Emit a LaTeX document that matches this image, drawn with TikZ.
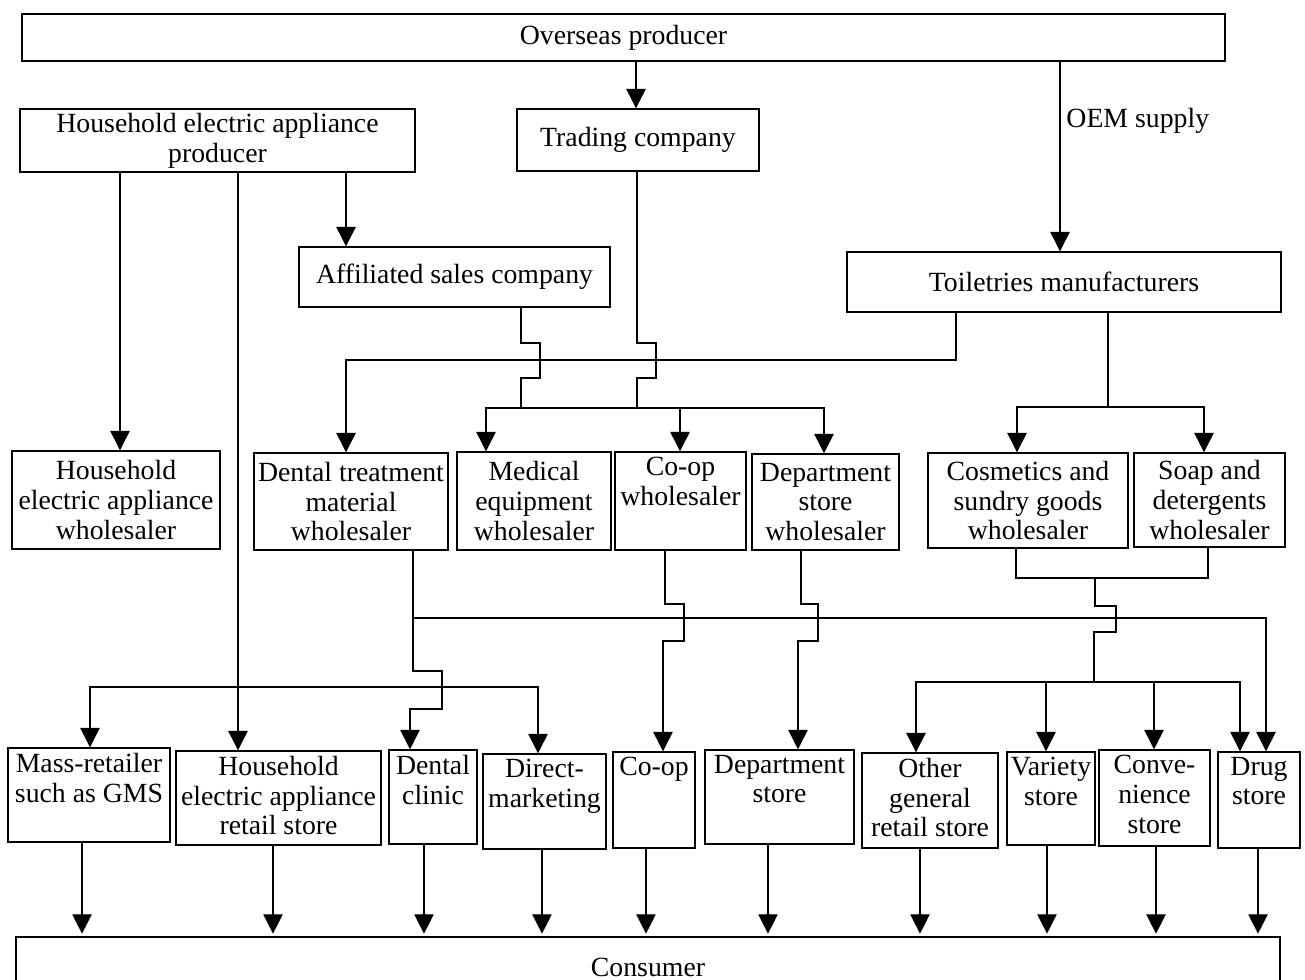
\documentclass[tikz,border=0pt]{standalone}
\usepackage{fontspec}
\setmainfont{Liberation Serif}
\usetikzlibrary{arrows.meta,fit}

\begin{document}
\begin{tikzpicture}[x=0.02cm,y=-0.02cm,
  every node/.style={font=\fontsize{15.8}{17}\selectfont},
  box/.style={draw, line width=0.8pt, inner sep=0pt},
  midtext/.style={align=center, inner sep=0pt},
  toptext/.style={anchor=north, align=center, inner sep=3pt},
  link/.style={line width=0.7pt},
  arr/.style={link, -{Triangle[length=11pt,width=11pt]}}]
  \useasboundingbox (0,0) rectangle (1305,980);

  % Producers
  \node[box, fit={(22,14) (1225,61)}] (over) {};
  \node[midtext] (overt) at (over.center) {Overseas producer};
  \node[box, fit={(517,109) (759,171)}] (trade) {};
  \node[midtext] (tradet) at (trade.center) {Trading company};
  \node[box, fit={(20,109) (415,172)}] (prod) {};
  \node[midtext] (prodt) at (prod.center) {Household electric appliance\\producer};
  \node[box, fit={(299,247) (610,307)}] (aff) {};
  \node[midtext] (afft) at (aff.center) {Affiliated sales company};
  \node[box, fit={(847,252) (1281,312)}] (toil) {};
  \node[midtext] (toilt) at (toil.center) {Toiletries manufacturers};

  % Wholesalers
  \node[box, fit={(12,451) (220,549)}] (hewh) {};
  \node[midtext] (hewht) at (hewh.center) {Household\\electric appliance\\wholesaler};
  \node[box, fit={(254,453) (448,550)}] (dentwh) {};
  \node[midtext] (dentwht) at (dentwh.center) {Dental treatment\\material\\wholesaler};
  \node[box, fit={(457,452) (611,550)}] (medwh) {};
  \node[midtext] (medwht) at (medwh.center) {Medical\\equipment\\wholesaler};
  \node[box, fit={(615,452) (746,550)}] (coopwh) {};
  \node[toptext] (coopwht) at (coopwh.north) {Co-op\\wholesaler};
  \node[box, fit={(752,454) (899,550)}] (deptwh) {};
  \node[midtext] (deptwht) at (deptwh.center) {Department\\store\\wholesaler};
  \node[box, fit={(928,453) (1128,548)}] (coswh) {};
  \node[midtext] (coswht) at (coswh.center) {Cosmetics and\\sundry goods\\wholesaler};
  \node[box, fit={(1134,453) (1285,547)}] (soapwh) {};
  \node[midtext] (soapwht) at (soapwh.center) {Soap and\\detergents\\wholesaler};

  % Retailers
  \node[box, fit={(8,748) (170,842)}] (mass) {};
  \node[toptext] (masst) at (mass.north) {Mass-retailer\\such as GMS};
  \node[box, fit={(176,751) (381,845)}] (heret) {};
  \node[toptext] (herett) at (heret.north) {Household\\electric appliance\\retail store};
  \node[box, fit={(389,750) (477,844)}] (dclin) {};
  \node[toptext] (dclint) at (dclin.north) {Dental\\clinic};
  \node[box, fit={(483,754) (606,849)}] (direct) {};
  \node[toptext] (directt) at (direct.north) {Direct-\\marketing};
  \node[box, fit={(613,752) (695,848)}] (coop) {};
  \node[toptext] (coopt) at (coop.north) {Co-op};
  \node[box, fit={(705,750) (854,844)}] (dept) {};
  \node[toptext] (deptt) at (dept.north) {Department\\store};
  \node[box, fit={(862,753) (998,848)}] (other) {};
  \node[toptext] (othert) at (other.north) {Other\\general\\retail store};
  \node[box, fit={(1007,752) (1095,845)}] (variety) {};
  \node[toptext] (varietyt) at (variety.north) {Variety\\store};
  \node[box, fit={(1099,750) (1210,846)}] (conv) {};
  \node[toptext] (convt) at (conv.north) {Conve-\\nience\\store};
  \node[box, fit={(1218,752) (1300,848)}] (drug) {};
  \node[toptext] (drugt) at (drug.north) {Drug\\store};

  % Consumer
  \node[box, fit={(16,937) (1280,1000)}] (cons) {};
  \node[midtext] (const) at (648,967) {Consumer};

  % Overseas producer
  \draw[arr] (over.south -| 636,0) -- (trade.north -| 636,0);
  \draw[arr] (over.south -| 1060,0) -- (toil.north -| 1060,0)
    node[pos=0.31, right] (oem) {OEM supply};

  % Household electric appliance producer
  \draw[arr] (prod.south -| 120,0) -- (hewh.north -| 120,0);
  \draw[arr] (prod.south -| 238,0) -- (heret.north -| 238,0);
  \draw[arr] (prod.south -| 346,0) -- (aff.north -| 346,0);
  \coordinate (pbus) at (238,687);
  \draw[arr] (pbus) -| (mass.north -| 90,0);
  \draw[arr] (pbus) -| (direct.north -| 538,0);

  % Affiliated sales company and trading company
  \coordinate (wbus) at (637,408);
  \draw[link] (aff.south -| 521,0) -- (521,343) -- (540,343) -- (540,378) -- (521,378) -- (521,408);
  \draw[link] (trade.south -| 637,0) -- (637,343) -- (656,343) -- (656,378) -- (637,378) -- (wbus);
  \draw[arr] (wbus) -| (medwh.north -| 486,0);
  \draw[arr] (wbus) -| (deptwh.north -| 824,0);
  \draw[arr] (wbus -| 680,0) -- (coopwh.north -| 680,0);

  % Toiletries manufacturers
  \draw[arr] (toil.south -| 956,0) |- (346,360) -- (dentwh.north -| 346,0);
  \coordinate (tbus) at (1108,407);
  \draw[link] (toil.south -| 1108,0) -- (tbus);
  \draw[arr] (tbus) -| (coswh.north -| 1017,0);
  \draw[arr] (tbus) -| (soapwh.north -| 1204,0);

  % Wholesalers to retailers
  \coordinate (split) at (413,618);
  \draw[arr] (dentwh.south -| 413,0) -- (413,671) -- (442,671) -- (442,709) -- (410,709) -- (dclin.north -| 410,0);
  \draw[arr] (split) -| (drug.north -| 1266,0);
  \draw[arr] (coopwh.south -| 665,0) -- (665,604) -- (684,604) -- (684,641) -- (663,641) -- (coop.north -| 663,0);
  \draw[arr] (deptwh.south -| 801,0) -- (801,604) -- (818,604) -- (818,641) -- (798,641) -- (dept.north -| 798,0);
  \coordinate (cbus) at (1095,578);
  \draw[link] (coswh.south -| 1016,0) |- (cbus);
  \draw[link] (soapwh.south -| 1208,0) |- (cbus);
  \coordinate (rbus) at (1094,682);
  \draw[link] (cbus) -- (1095,606) -- (1116,606) -- (1116,632) -- (1094,632) -- (rbus);
  \draw[arr] (rbus) -| (other.north -| 916,0);
  \draw[arr] (rbus) -| (drug.north -| 1240,0);
  \draw[arr] (rbus -| 1046,0) -- (variety.north -| 1046,0);
  \draw[arr] (rbus -| 1154,0) -- (conv.north -| 1154,0);

  % Retailers to consumer
  \foreach \n/\x in {mass/82, heret/273, dclin/424, direct/542, coop/646, dept/768, other/920, variety/1047, conv/1156, drug/1258}
    \draw[arr, shorten >=1.5pt] (\n.south -| \x,0) -- (cons.north -| \x,0);
\end{tikzpicture}
\end{document}
